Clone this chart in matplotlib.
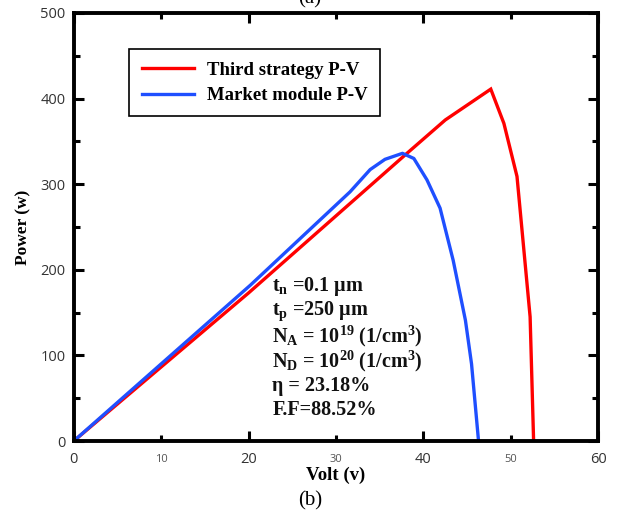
import matplotlib
matplotlib.use("Agg")
import matplotlib.pyplot as plt

# Data
third_v = [0, 20, 38, 42.5, 47.7, 49.2, 50.7, 52.2, 52.6]
third_p = [0, 173, 335, 375, 411, 371, 309, 145, 0]
market_v = [0, 20.2, 31.6, 33.9, 35.6, 37.6, 38.9, 40.4, 41.9, 43.4, 44.8, 45.5, 46.3]
market_p = [0, 182, 291, 317, 329, 336, 330, 305, 272, 211, 141, 90, 0]

series_labels = ["Third strategy P-V", "Market module P-V"]
xticks_major = [0, 20, 40, 60]
xticks_minor = [10, 30, 50]
yticks = [0, 100, 200, 300, 400, 500]
annot_lines = [
    r"t$_\mathregular{n}$ =0.1 μm",
    r"t$_\mathregular{p}$ =250 μm",
    r"N$_\mathregular{A}$ = 10$^\mathregular{19}$ (1/cm$^\mathregular{3}$)",
    r"N$_\mathregular{D}$ = 10$^\mathregular{20}$ (1/cm$^\mathregular{3}$)",
    "η = 23.18%",
    "F.F=88.52%",
]
annot_y = [181, 152, 122, 93, 64, 36]

plt.rcParams['mathtext.fontset'] = 'custom'
plt.rcParams['mathtext.rm'] = 'Liberation Serif:bold'
plt.rcParams['mathtext.it'] = 'Liberation Serif:bold'
plt.rcParams['mathtext.bf'] = 'Liberation Serif:bold'

fig = plt.figure(figsize=(6.2, 5.17), dpi=100)
ax = fig.add_axes([0.119, 0.147, 0.846, 0.828])

ax.plot(third_v, third_p, color='#ff0000', lw=2.4, label=series_labels[0], solid_joinstyle='miter')
ax.plot(market_v, market_p, color='#1f4fff', lw=2.4, label=series_labels[1])

ax.set_xlim(0, 60)
ax.set_ylim(0, 500)

ax.set_xticks(xticks_major)
ax.set_xticklabels([str(t) for t in xticks_major])
ax.set_xticks(xticks_minor, minor=True)
ax.set_xticklabels([str(t) for t in xticks_minor], minor=True)
ax.set_yticks(yticks)
ax.set_yticks([50, 150, 250, 350, 450], minor=True)

for lab in ax.get_xticklabels() + ax.get_yticklabels():
    lab.set_fontfamily('Open Sans')
    lab.set_color('#333333')
for lab in ax.get_xticklabels(minor=True):
    lab.set_fontfamily('Open Sans')
    lab.set_color('#555555')

ax.tick_params(which='major', direction='in', length=7, width=2.2, top=True, right=True,
               labelsize=10.5, pad=6)
ax.tick_params(which='minor', direction='in', length=4, width=2.2, top=True, right=True)
ax.tick_params(axis='x', which='minor', labelsize=8, pad=9)
ax.tick_params(axis='x', which='major', pad=8)

for s in ax.spines.values():
    s.set_linewidth(2.8)

ax.set_xlabel("Volt (v)", fontfamily='Liberation Serif', fontweight='bold', fontsize=13.5, labelpad=0)
ax.set_ylabel("Power (w)", fontfamily='Liberation Serif', fontweight='bold', fontsize=12.5, labelpad=6)

leg = ax.legend(loc='upper left', bbox_to_anchor=(0.088, 0.937), fancybox=False,
                edgecolor='black', framealpha=1, borderpad=0.65, handlelength=2.8,
                labelspacing=0.45, handletextpad=0.7,
                prop={'family': 'Liberation Serif', 'weight': 'bold', 'size': 13.5})
leg.get_frame().set_linewidth(1.2)

for txt, yv in zip(annot_lines, annot_y):
    ax.text(22.7, yv, txt, fontfamily='Liberation Serif', fontweight='bold', fontsize=14.5,
            va='center', ha='left', color='#111111')

fig.text(0.5, 0.032, "(b)", ha='center', va='center', fontfamily='Liberation Serif', fontsize=15)
fig.text(0.5, 1.003, "(a)", ha='center', va='center', fontfamily='Liberation Serif', fontsize=15)

fig.savefig("out.png", dpi=100)
